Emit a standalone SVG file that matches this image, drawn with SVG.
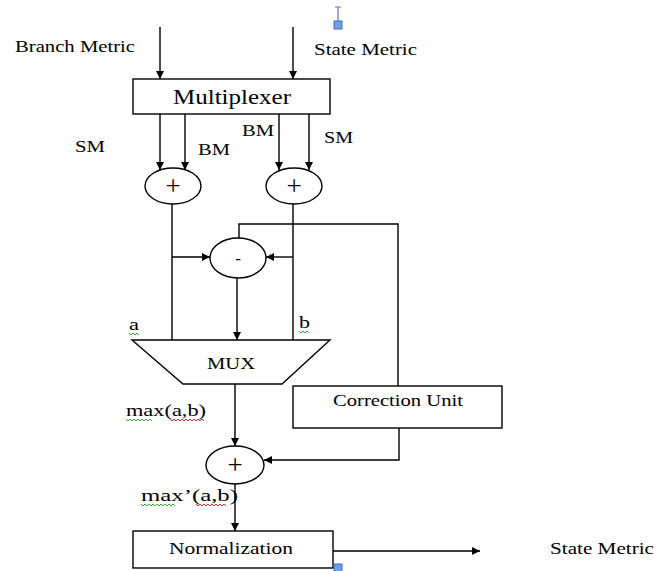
<svg xmlns="http://www.w3.org/2000/svg" width="662" height="571" viewBox="0 0 662 571" font-family="'Liberation Serif', 'Times New Roman', 'DejaVu Serif', serif">
<style>
  .ln{fill:none;stroke:#000;stroke-width:1.4}
  .box{fill:#fff;stroke:#000;stroke-width:1.4}
  text{font-family:'Liberation Serif','Times New Roman','DejaVu Serif',serif;font-size:17px;fill:#000}
  .c{text-anchor:middle}
  text.op{font-size:27px}
  .sq{fill:none;stroke-width:1}
  .g{stroke:#3aa83a}
  .r{stroke:#e03030}
</style>
<defs>
  <marker id="ah" viewBox="0 0 10 10" refX="10" refY="5" markerWidth="8" markerHeight="9" markerUnits="userSpaceOnUse" orient="auto">
    <path d="M0,0 L10,5 L0,10 z" fill="#000"/>
  </marker>
</defs>
<rect width="662" height="571" fill="#fff"/>

<g id="connectors">
  <line class="ln" x1="160" y1="27" x2="160" y2="79" marker-end="url(#ah)"/>
  <line class="ln" x1="293" y1="27" x2="293" y2="79" marker-end="url(#ah)"/>
  <line class="ln" x1="160" y1="114" x2="160" y2="170" marker-end="url(#ah)"/>
  <line class="ln" x1="185" y1="114" x2="185" y2="170" marker-end="url(#ah)"/>
  <line class="ln" x1="279" y1="114" x2="279" y2="170" marker-end="url(#ah)"/>
  <line class="ln" x1="309" y1="114" x2="309" y2="170" marker-end="url(#ah)"/>
  <line class="ln" x1="172" y1="204" x2="172" y2="340"/>
  <line class="ln" x1="293" y1="204" x2="293" y2="340"/>
  <line class="ln" x1="172" y1="257" x2="210" y2="257" marker-end="url(#ah)"/>
  <line class="ln" x1="293" y1="257" x2="266" y2="257" marker-end="url(#ah)"/>
  <polyline class="ln" points="239,238 239,224 398,224 398,386"/>
  <line class="ln" x1="237" y1="278" x2="237" y2="340" marker-end="url(#ah)"/>
  <line class="ln" x1="235" y1="384" x2="235" y2="446" marker-end="url(#ah)"/>
  <polyline class="ln" points="399,428 399,460 264,460" marker-end="url(#ah)"/>
  <line class="ln" x1="235" y1="484" x2="235" y2="531" marker-end="url(#ah)"/>
  <line class="ln" x1="333" y1="551" x2="480" y2="551" marker-end="url(#ah)"/>
</g>

<g id="multiplexer">
  <rect class="box" x="133" y="79" width="197" height="35"/>
  <text class="c" x="232" y="104" style="font-size:20px" textLength="118" lengthAdjust="spacingAndGlyphs">Multiplexer</text>
</g>
<g id="add-left">
  <ellipse class="box" cx="173" cy="186" rx="28" ry="18"/>
  <text class="c op" x="173" y="195">+</text>
</g>
<g id="add-right">
  <ellipse class="box" cx="294" cy="186" rx="28" ry="18"/>
  <text class="c op" x="294" y="195">+</text>
</g>
<g id="subtract">
  <ellipse class="box" cx="238" cy="258" rx="28" ry="20"/>
  <text class="c" x="238" y="264">-</text>
</g>
<g id="mux">
  <polygon class="box" points="132,340 330,340 282,384 183,384"/>
  <text class="c" x="231" y="369" textLength="48" lengthAdjust="spacingAndGlyphs">MUX</text>
</g>
<g id="correction-unit">
  <rect class="box" x="293" y="386" width="209" height="42"/>
  <text class="c" x="398" y="406" textLength="130" lengthAdjust="spacingAndGlyphs">Correction Unit</text>
</g>
<g id="add-bottom">
  <ellipse class="box" cx="235" cy="465" rx="29" ry="19"/>
  <text class="c op" x="235" y="474">+</text>
</g>
<g id="normalization">
  <rect class="box" x="133" y="531" width="200" height="37"/>
  <text class="c" x="231" y="554" textLength="124" lengthAdjust="spacingAndGlyphs">Normalization</text>
</g>

<g id="labels">
  <text x="15" y="52" textLength="120" lengthAdjust="spacingAndGlyphs">Branch Metric</text>
  <text x="314" y="55" textLength="103" lengthAdjust="spacingAndGlyphs">State Metric</text>
  <text x="75" y="152" textLength="30" lengthAdjust="spacingAndGlyphs">SM</text>
  <text x="198" y="155" textLength="32" lengthAdjust="spacingAndGlyphs">BM</text>
  <text x="242" y="136" textLength="32" lengthAdjust="spacingAndGlyphs">BM</text>
  <text x="324" y="143" textLength="29" lengthAdjust="spacingAndGlyphs">SM</text>
  <text x="129" y="330" textLength="10" lengthAdjust="spacingAndGlyphs">a</text>
  <text x="299" y="328" textLength="11" lengthAdjust="spacingAndGlyphs">b</text>
  <text x="126" y="416" textLength="80" lengthAdjust="spacingAndGlyphs">max(a,b)</text>
  <text x="141" y="501" textLength="97" lengthAdjust="spacingAndGlyphs">max’(a,b)</text>
  <text x="550" y="554" textLength="104" lengthAdjust="spacingAndGlyphs">State Metric</text>
</g>

<g id="squiggles">
  <path class="sq g" d="M129,333 l2,2 l2,-2 l2,2 l2,-2 l2,2"/>
  <path class="sq g" d="M299,331 l2,2 l2,-2 l2,2 l2,-2 l2,2"/>
  <path class="sq g" d="M126,419 l2,2 l2,-2 l2,2 l2,-2 l2,2 l2,-2 l2,2 l2,-2 l2,2 l2,-2 l2,2 l2,-2 l2,2"/>
  <path class="sq r" d="M170,419 l2,2 l2,-2 l2,2 l2,-2 l2,2 l2,-2 l2,2 l2,-2 l2,2 l2,-2 l2,2 l2,-2 l2,2 l2,-2 l2,2 l2,-2 l2,2"/>
  <path class="sq g" d="M141,504 l2,2 l2,-2 l2,2 l2,-2 l2,2 l2,-2 l2,2 l2,-2 l2,2 l2,-2 l2,2 l2,-2 l2,2 l2,-2 l2,2 l2,-2 l2,2"/>
  <path class="sq r" d="M196,504 l2,2 l2,-2 l2,2 l2,-2 l2,2 l2,-2 l2,2 l2,-2 l2,2 l2,-2 l2,2 l2,-2 l2,2 l2,-2 l2,2"/>
</g>

<g id="cursor-marks">
  <line x1="338" y1="7" x2="338" y2="21" stroke="#4a78c0" stroke-width="1.2"/>
  <line x1="335" y1="7" x2="341" y2="7" stroke="#4a78c0" stroke-width="1"/>
  <rect x="334" y="21" width="8" height="8" fill="#6d9ee6" stroke="#3f6fb8" stroke-width="1"/>
  <rect x="334" y="564" width="8" height="8" fill="#6d9ee6" stroke="#3f6fb8" stroke-width="1"/>
</g>
</svg>
